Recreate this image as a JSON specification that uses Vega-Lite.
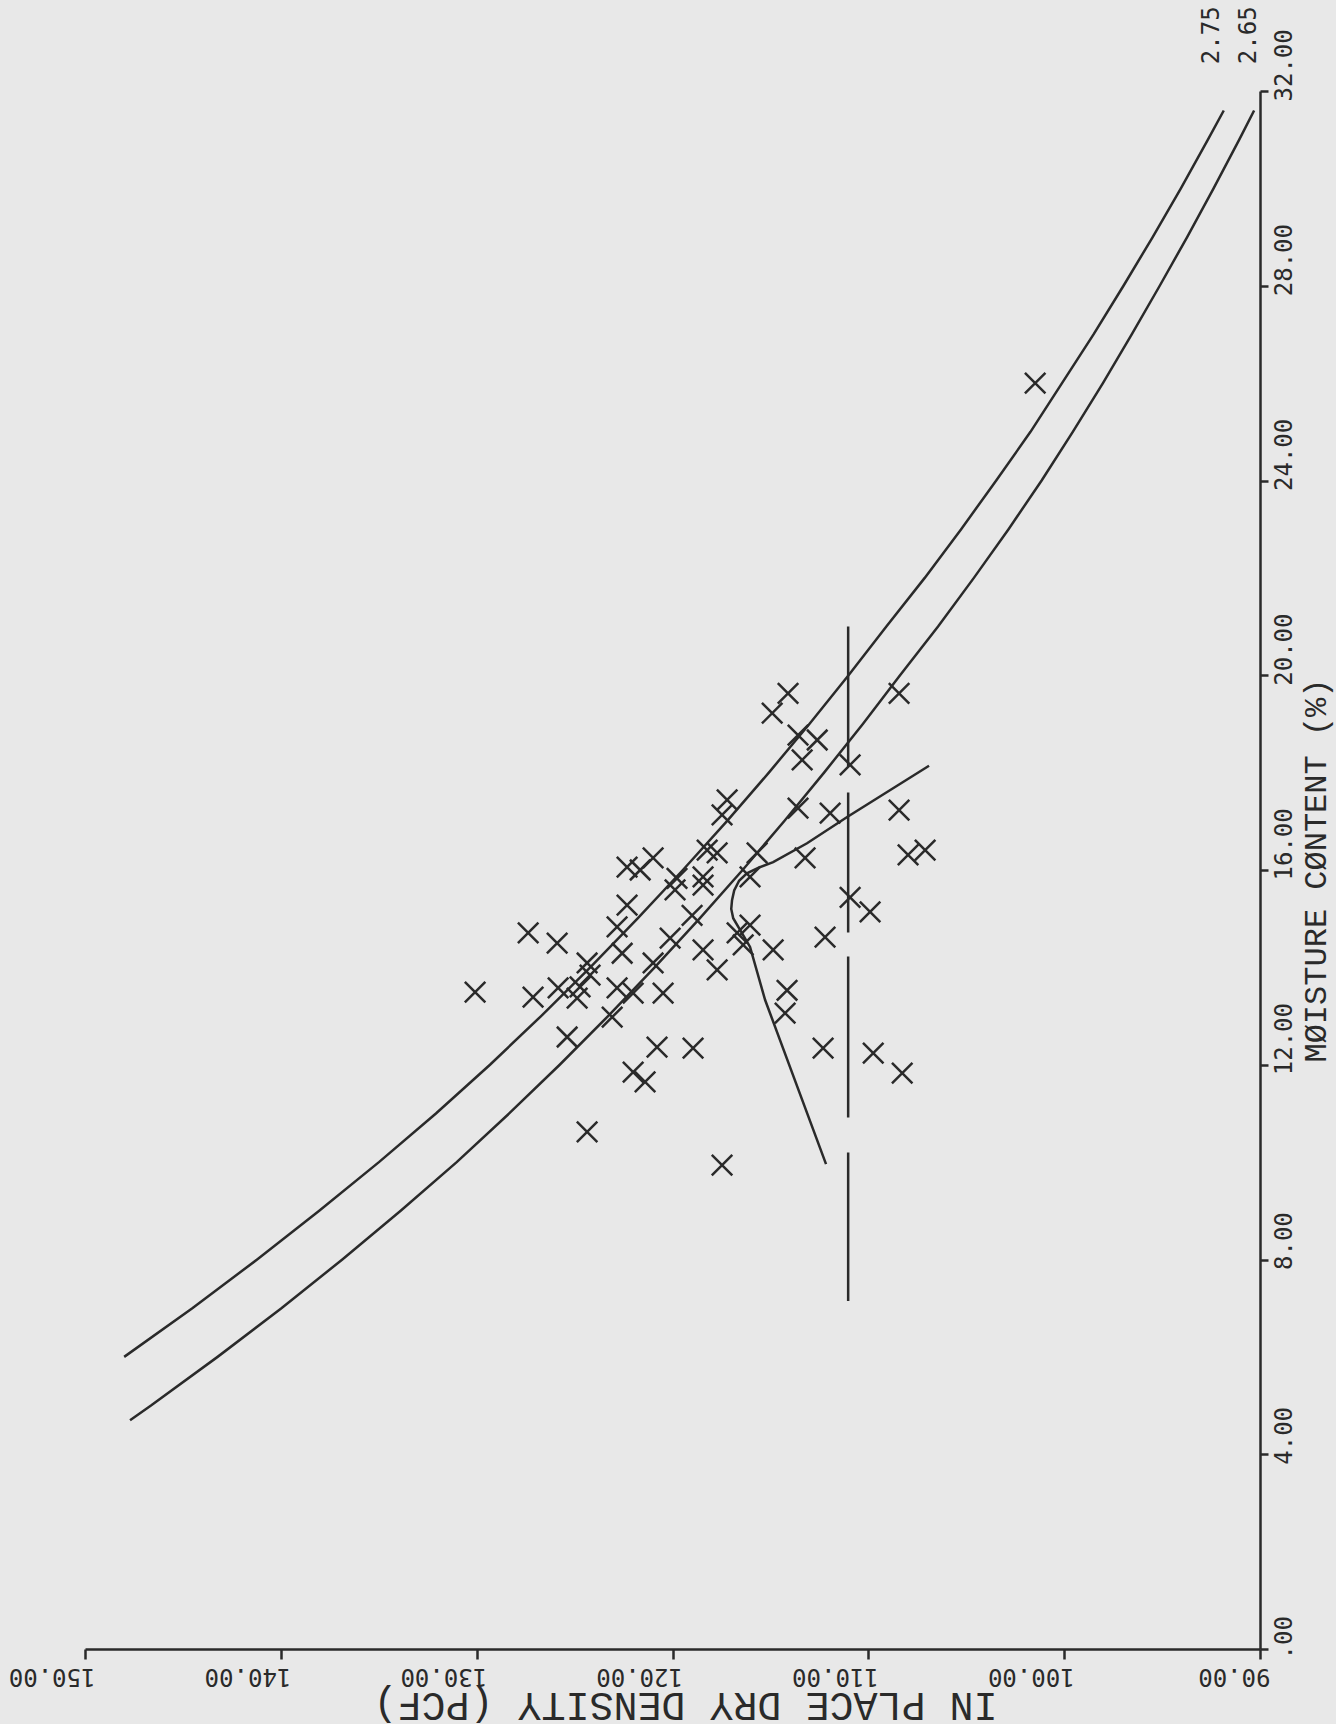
{
  "$schema": "https://vega.github.io/schema/vega-lite/v6.json",
  "width": 1175,
  "height": 1558,
  "autosize": {"type": "none"},
  "padding": {"left": 85, "top": 91, "right": 76, "bottom": 75},
  "background": "#e8e8e8",
  "config": {
    "view": {"stroke": null},
    "axis": {"grid": false, "domainColor": "#2a2a2a", "tickColor": "#2a2a2a", "labelColor": "#2a2a2a", "titleColor": "#2a2a2a", "domainWidth": 2.5, "tickWidth": 2.5, "labelFont": "DejaVu Sans Mono", "titleFont": "Liberation Mono", "labelFontSize": 24, "titleFontSize": 40, "titleFontWeight": "normal"}
  },
  "datasets": {
    "pts": [
      {"d":114.1,"m":19.63},{"d":114.91,"m":19.22},{"d":108.43,"m":19.63},{"d":113.59,"m":18.77},{"d":112.61,"m":18.67},{"d":113.38,"m":18.26},{"d":110.93,"m":18.16},{"d":117.21,"m":17.44},{"d":117.47,"m":17.13},{"d":113.59,"m":17.27},{"d":111.95,"m":17.17},{"d":108.43,"m":17.23},{"d":118.23,"m":16.41},{"d":117.72,"m":16.35},{"d":115.68,"m":16.35},{"d":113.23,"m":16.25},{"d":107.97,"m":16.31},{"d":107.1,"m":16.41},{"d":122.32,"m":16.06},{"d":121.65,"m":16.0},{"d":120.99,"m":16.25},{"d":119.77,"m":15.83},{"d":118.44,"m":15.86},{"d":116.04,"m":15.86},{"d":119.87,"m":15.59},{"d":118.44,"m":15.69},{"d":122.32,"m":15.28},{"d":110.93,"m":15.44},{"d":109.91,"m":15.14},{"d":119.0,"m":15.07},{"d":122.83,"m":14.83},{"d":127.37,"m":14.71},{"d":125.89,"m":14.5},{"d":120.12,"m":14.6},{"d":116.04,"m":14.87},{"d":116.7,"m":14.71},{"d":112.21,"m":14.62},{"d":122.57,"m":14.29},{"d":124.36,"m":14.09},{"d":118.44,"m":14.36},{"d":120.99,"m":14.09},{"d":117.72,"m":13.95},{"d":114.86,"m":14.36},{"d":116.39,"m":14.46},{"d":124.21,"m":13.84},{"d":124.72,"m":13.6},{"d":125.84,"m":13.58},{"d":122.83,"m":13.58},{"d":122.01,"m":13.47},{"d":120.48,"m":13.47},{"d":130.08,"m":13.49},{"d":127.12,"m":13.39},{"d":124.87,"m":13.37},{"d":114.15,"m":13.53},{"d":114.25,"m":13.06},{"d":123.08,"m":12.98},{"d":125.38,"m":12.57},{"d":120.79,"m":12.36},{"d":118.95,"m":12.34},{"d":112.31,"m":12.34},{"d":109.75,"m":12.24},{"d":108.27,"m":11.83},{"d":122.01,"m":11.85},{"d":121.4,"m":11.65},{"d":124.36,"m":10.62},{"d":117.47,"m":9.94},{"d":101.48,"m":26.0}
    ],
    "curves": [
      {"s":"2.75","d":148.0,"m":6.0},{"s":"2.75","d":144.52,"m":7.0},{"s":"2.75","d":141.21,"m":8.0},{"s":"2.75","d":138.04,"m":9.0},{"s":"2.75","d":134.99,"m":10.0},{"s":"2.75","d":132.08,"m":11.0},{"s":"2.75","d":129.32,"m":12.0},{"s":"2.75","d":126.71,"m":13.0},{"s":"2.75","d":124.2,"m":14.0},{"s":"2.75","d":121.79,"m":15.0},{"s":"2.75","d":119.47,"m":16.0},{"s":"2.75","d":117.23,"m":17.0},{"s":"2.75","d":115.08,"m":18.0},{"s":"2.75","d":113.01,"m":19.0},{"s":"2.75","d":111.01,"m":20.0},{"s":"2.75","d":109.08,"m":21.0},{"s":"2.75","d":107.12,"m":22.0},{"s":"2.75","d":105.26,"m":23.0},{"s":"2.75","d":103.47,"m":24.0},{"s":"2.75","d":101.72,"m":25.0},{"s":"2.75","d":100.11,"m":26.0},{"s":"2.75","d":98.5,"m":27.0},{"s":"2.75","d":96.97,"m":28.0},{"s":"2.75","d":95.48,"m":29.0},{"s":"2.75","d":94.04,"m":30.0},{"s":"2.75","d":92.66,"m":31.0},{"s":"2.75","d":91.85,"m":31.6},
      {"s":"2.65","d":147.7,"m":4.7},{"s":"2.65","d":146.63,"m":5.0},{"s":"2.65","d":143.23,"m":6.0},{"s":"2.65","d":139.97,"m":7.0},{"s":"2.65","d":136.86,"m":8.0},{"s":"2.65","d":133.88,"m":9.0},{"s":"2.65","d":131.02,"m":10.0},{"s":"2.65","d":128.34,"m":11.0},{"s":"2.65","d":125.76,"m":12.0},{"s":"2.65","d":123.29,"m":13.0},{"s":"2.65","d":120.91,"m":14.0},{"s":"2.65","d":118.62,"m":15.0},{"s":"2.65","d":116.42,"m":16.0},{"s":"2.65","d":114.3,"m":17.0},{"s":"2.65","d":112.26,"m":18.0},{"s":"2.65","d":110.28,"m":19.0},{"s":"2.65","d":108.38,"m":20.0},{"s":"2.65","d":106.44,"m":21.0},{"s":"2.65","d":104.61,"m":22.0},{"s":"2.65","d":102.84,"m":23.0},{"s":"2.65","d":101.15,"m":24.0},{"s":"2.65","d":99.56,"m":25.0},{"s":"2.65","d":98.02,"m":26.0},{"s":"2.65","d":96.55,"m":27.0},{"s":"2.65","d":95.12,"m":28.0},{"s":"2.65","d":93.72,"m":29.0},{"s":"2.65","d":92.37,"m":30.0},{"s":"2.65","d":91.06,"m":31.0},{"s":"2.65","d":90.3,"m":31.6},
      {"s":"fit","d":112.16,"m":9.96},{"s":"fit","d":115.27,"m":13.33},{"s":"fit","d":116.04,"m":14.42},{"s":"fit","d":116.9,"m":15.01},{"s":"fit","d":117.0,"m":15.2},{"s":"fit","d":116.96,"m":15.38},{"s":"fit","d":116.85,"m":15.58},{"s":"fit","d":116.6,"m":15.78},{"s":"fit","d":116.2,"m":15.93},{"s":"fit","d":115.6,"m":16.05},{"s":"fit","d":114.86,"m":16.16},{"s":"fit","d":113.13,"m":16.55},{"s":"fit","d":111.08,"m":17.09},{"s":"fit","d":106.9,"m":18.14}
    ],
    "vline": [{"d": 111.03, "m": 21.0, "m2": 7.15}],
    "labels": [{"d": 92.44, "m": 32.55, "t": "2.75"}, {"d": 90.55, "m": 32.55, "t": "2.65"}]
  },
  "encoding": {
    "x": {"field": "d", "type": "quantitative", "scale": {"domain": [90, 150], "reverse": true, "nice": false, "zero": false},
      "axis": {"orient": "bottom", "values": [150, 140, 130, 120, 110, 100, 90], "format": ".2f", "labelAngle": 180, "labelAlign": "left", "labelBaseline": "bottom", "labelOffset": 10, "tickSize": 10, "labelPadding": 4, "labelFlush": false, "labelOverlap": false, "title": "IN PLACE DRY DENSITY (PCF)", "titleAngle": 180, "titleAlign": "center", "titleBaseline": "middle", "titleX": 600, "titleY": 55}},
    "y": {"field": "m", "type": "quantitative", "scale": {"domain": [0, 32], "nice": false, "zero": false},
      "axis": {"orient": "right", "values": [0, 4, 8, 12, 16, 20, 24, 28, 32], "labelExpr": "datum.value == 0 ? '.00' : format(datum.value, '.2f')", "labelAngle": 270, "labelAlign": "left", "labelBaseline": "top", "labelOffset": 10, "tickSize": 8, "labelPadding": 4, "labelFlush": false, "labelOverlap": false, "title": "MØISTURE CØNTENT (%)", "titleFontSize": 32, "titleAngle": 270, "titleAlign": "center", "titleBaseline": "middle", "titleX": 55, "titleY": 779}}
  },
  "layer": [
    {"data": {"name": "curves"}, "mark": {"type": "line", "color": "#2a2a2a", "strokeWidth": 2.5}, "encoding": {"detail": {"field": "s"}, "order": {"field": "m", "type": "quantitative"}}},
    {"data": {"name": "vline"}, "mark": {"type": "rule", "color": "#2a2a2a", "strokeWidth": 2.5, "strokeDash": [140, 26, 140, 24, 161, 35, 150, 10]}, "encoding": {"y2": {"field": "m2"}}},
    {"data": {"name": "pts"}, "mark": {"type": "point", "shape": "M-1,-1L1,1M-1,1L1,-1", "size": 420, "filled": false, "color": "#2a2a2a", "strokeWidth": 2.5, "opacity": 1}},
    {"data": {"name": "labels"}, "mark": {"type": "text", "angle": 270, "align": "left", "baseline": "middle", "font": "DejaVu Sans Mono", "fontSize": 24, "color": "#2a2a2a"}, "encoding": {"text": {"field": "t"}}}
  ]
}
